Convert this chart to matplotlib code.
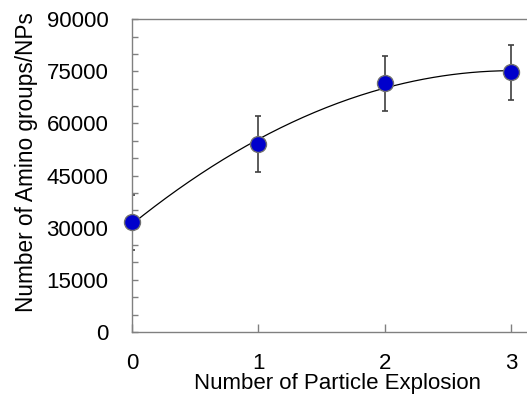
import numpy as np
import matplotlib
matplotlib.use("Agg")
import matplotlib.pyplot as plt

# Data
explosions = [0, 1, 2, 3]
amino_groups = [31500, 54000, 71600, 74700]
amino_err = [8000, 8000, 7900, 7900]

y_ticks = [0, 15000, 30000, 45000, 60000, 75000, 90000]
x_ticks = [0, 1, 2, 3]

plt.rcParams["font.family"] = ["Liberation Sans", "DejaVu Sans"]

fig = plt.figure(figsize=(5.27, 3.99), dpi=100)
ax = fig.add_axes([0.2505, 0.168, 0.76, 0.784])

# quadratic trend line through the points
coef = np.polyfit(explosions, amino_groups, 2)
xs = np.linspace(explosions[0], explosions[-1], 200)
ax.plot(xs, np.polyval(coef, xs), color="black", lw=0.9, zorder=2)

ax.errorbar(explosions, amino_groups, yerr=amino_err, fmt="none",
            ecolor="#404040", elinewidth=1.2, capsize=2.2, capthick=1.2, zorder=1)
ax.plot(explosions, amino_groups, "o", ms=11.5, mfc="#0000CC", mec="#707070",
        mew=1.0, zorder=3, clip_on=False)

ax.set_xlim(0, 3.17)
ax.set_ylim(0, 90000)
ax.set_xticks(x_ticks)
ax.set_yticks(y_ticks)
ax.set_yticks(np.arange(0, 90001, 5000), minor=True)

for side in ["top", "bottom", "left"]:
    ax.spines[side].set_color("#808080")
    ax.spines[side].set_linewidth(1.0)
ax.spines["right"].set_visible(False)

ax.tick_params(axis="both", which="both", direction="in", color="#808080",
               width=1.0, labelsize=16)
ax.tick_params(axis="y", which="both", length=4, pad=17)
ax.tick_params(axis="x", length=6, pad=15)

ax.set_xlabel("Number of Particle Explosion", fontsize=16)
ax.set_ylabel("Number of Amino groups/NPs", fontsize=16.3)
ax.xaxis.set_label_coords(0.513, -0.131)
ax.yaxis.set_label_coords(-0.235, 0.543)

fig.savefig("out.png", dpi=100)
